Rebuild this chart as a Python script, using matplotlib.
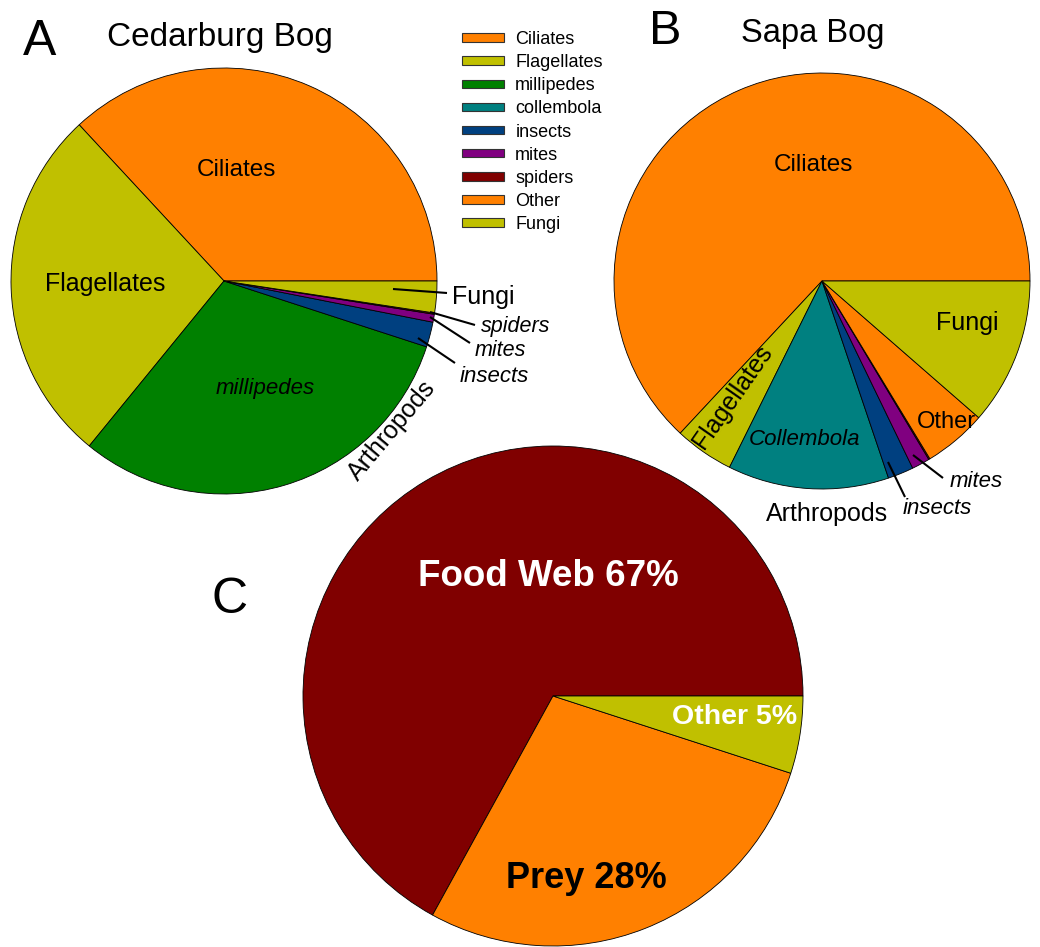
import matplotlib
matplotlib.use("Agg")
import matplotlib.pyplot as plt
from matplotlib.patches import Patch

plt.rcParams["font.family"] = ["Liberation Sans", "DejaVu Sans"]

W, H = 1040, 947

ORANGE = "#FF8000"
OLIVE = "#C0C000"
GREEN = "#008000"
TEAL = "#008080"
BLUE = "#004080"
PURPLE = "#800080"
DARKRED = "#800000"

# legend
legend_labels = ["Ciliates", "Flagellates", "millipedes", "collembola", "insects",
                 "mites", "spiders", "Other", "Fungi"]
legend_colors = [ORANGE, OLIVE, GREEN, TEAL, BLUE, PURPLE, DARKRED, ORANGE, OLIVE]

# A: Cedarburg Bog (% of reads)
cedar_labels = ["Ciliates", "Flagellates", "millipedes", "insects", "mites", "spiders", "Fungi"]
cedar_values = [36.9, 27.2, 30.9, 1.9, 0.6, 0.1, 2.4]
cedar_colors = [ORANGE, OLIVE, GREEN, BLUE, PURPLE, DARKRED, OLIVE]

# B: Sapa Bog
sapa_labels = ["Ciliates", "Flagellates", "collembola", "insects", "mites", "spiders", "Other", "Fungi"]
sapa_values = [63.0, 4.6, 12.5, 2.0, 1.4, 0.1, 4.9, 11.4]
sapa_colors = [ORANGE, OLIVE, TEAL, BLUE, PURPLE, DARKRED, ORANGE, OLIVE]

# C: spider diet
diet_labels = ["Food Web 67%", "Prey 28%", "Other 5%"]
diet_values = [67, 28, 5]
diet_colors = [DARKRED, ORANGE, OLIVE]

fig = plt.figure(figsize=(W / 100, H / 100), dpi=100)
ax = fig.add_axes([0, 0, 1, 1])

wp = dict(edgecolor="black", linewidth=0.6)


def py(y):
    return H - y


def txt(x, y, s, size, **kw):
    kw.setdefault("ha", "center")
    kw.setdefault("va", "center")
    return ax.text(x, py(y), s, fontsize=size, **kw)


def leader(x0, y0, x1, y1):
    ax.plot([x0, x1], [py(y0), py(y1)], color="black", linewidth=1.5,
            solid_capstyle="butt")


wa, _ = ax.pie(cedar_values, colors=cedar_colors, startangle=0, counterclock=True,
               center=(224, py(281)), radius=213, wedgeprops=wp, frame=True)
wb, _ = ax.pie(sapa_values, colors=sapa_colors, startangle=0, counterclock=True,
               center=(822, py(281)), radius=208, wedgeprops=wp, frame=True)
wc, _ = ax.pie(diet_values, colors=diet_colors, startangle=0, counterclock=True,
               center=(553, py(696)), radius=250, wedgeprops=wp, frame=True)

ax.set_xlim(0, W)
ax.set_ylim(0, H)
ax.set_aspect("equal")
ax.axis("off")

# panel letters and titles
txt(40, 42, "A", 36)
txt(220, 37, "Cedarburg Bog", 24)
txt(665, 31, "B", 35)
txt(813, 33, "Sapa Bog", 23.5)
txt(230, 600, "C", 36)

# A labels
txt(236, 170, "Ciliates", 17.5)
txt(105, 284, "Flagellates", 18)
txt(265, 388, "millipedes", 16, style="italic")
txt(392, 431, "Arthropods", 18, rotation=50)
leader(393, 289, 447, 293)
leader(430, 312, 475, 325)
leader(430, 317, 470, 343)
leader(418, 338, 455, 363)
txt(452, 297, "Fungi", 18, ha="left")
txt(481, 326, "spiders", 15.5, ha="left", style="italic")
txt(475, 350, "mites", 15.5, ha="left", style="italic")
txt(460, 376, "insects", 16, ha="left", style="italic")

# B labels
txt(813, 165, "Ciliates", 17.5)
txt(967, 323, "Fungi", 18)
txt(733, 397, "Flagellates", 18, rotation=55)
txt(805, 439, "Collembola", 16, style="italic")
t = txt(946, 422, "Other", 17)
t.set_clip_path(wb[6])
leader(888, 462, 905, 497)
leader(913, 455, 943, 478)
txt(950, 481, "mites", 16, ha="left", style="italic")
txt(903, 508, "insects", 16, ha="left", style="italic")
txt(827, 514, "Arthropods", 18)

# C labels
txt(548, 576, diet_labels[0], 26.5, color="white", fontweight="bold")
txt(586, 878, diet_labels[1], 26, color="black", fontweight="bold")
txt(735, 717, diet_labels[2], 20.5, color="white", fontweight="bold")

handles = [Patch(facecolor=c, edgecolor="#333333", linewidth=0.8) for c in legend_colors]
fig.legend(handles, legend_labels, loc="upper left",
           bbox_to_anchor=(462 / W, 1 - 31 / H), frameon=False, fontsize=13,
           handlelength=2.35, handleheight=0.35, handletextpad=0.6,
           labelspacing=0.34, borderpad=0, borderaxespad=0)

fig.savefig("out.png", dpi=100)
